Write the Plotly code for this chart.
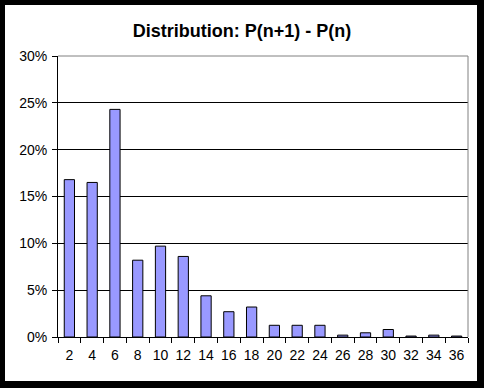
import plotly.graph_objects as go

categories = ["2", "4", "6", "8", "10", "12", "14", "16", "18",
              "20", "22", "24", "26", "28", "30", "32", "34", "36"]
values = [0.168, 0.165, 0.243, 0.082, 0.097, 0.086, 0.044, 0.027, 0.032,
          0.0125, 0.0125, 0.0125, 0.002, 0.0045, 0.008, 0.001, 0.002, 0.001]
y_ticks = [0, 0.05, 0.10, 0.15, 0.20, 0.25, 0.30]

W, H = 484, 388
L, R, T, B = 58, 16, 56, 51
pw, ph = W - L - R, H - T - B

def px_x(p):
    return (p - L) / pw

def px_y(p):
    return (H - B - p) / ph

fig = go.Figure()
fig.add_trace(go.Bar(
    x=categories, y=values,
    marker=dict(color="#9999FF", line=dict(color="black", width=1)),
    hoverinfo="skip",
))

font = "Liberation Sans, Arial, sans-serif"
fig.update_layout(
    width=W, height=H,
    margin=dict(l=L, r=R, t=T, b=B, pad=0, autoexpand=False),
    paper_bgcolor="black",
    plot_bgcolor="white",
    showlegend=False,
    bargap=0.55,
    title=dict(text="<b>Distribution: P(n+1) - P(n)</b>",
               x=0.5, xanchor="center", xref="container",
               y=(H - 31) / H, yanchor="middle", yref="container",
               font=dict(family=font, size=18, color="black")),
    font=dict(family=font, size=14, color="black"),
    xaxis=dict(type="category", showgrid=False, showline=True, linecolor="black",
               linewidth=1, ticks="outside", ticklen=5, tickcolor="black",
               tickson="boundaries", tickangle=0, automargin=False,
               ticklabelstandoff=5,
               tickfont=dict(size=14, color="black"), zeroline=False),
    yaxis=dict(range=[0, 0.30], tickvals=y_ticks, tickformat=".0%",
               showgrid=True, gridcolor="black", gridwidth=1,
               showline=True, linecolor="black", linewidth=1,
               ticks="outside", ticklen=5, tickcolor="black", automargin=False,
               ticklabelstandoff=2,
               tickfont=dict(size=14, color="black"), zeroline=False),
    shapes=[
        dict(type="rect", xref="paper", yref="paper", layer="below",
             x0=px_x(5), x1=px_x(477), y0=px_y(381), y1=px_y(5),
             fillcolor="white", line=dict(width=0)),
        dict(type="line", xref="paper", yref="paper", layer="above",
             x0=0, x1=1, y0=1, y1=1, line=dict(color="#808080", width=1)),
        dict(type="line", xref="paper", yref="paper", layer="above",
             x0=1, x1=1, y0=0, y1=1, line=dict(color="#808080", width=1)),
    ],
)
fig.write_html("out.html", config={"displayModeBar": False},
               post_script="document.body.style.margin='0';document.body.style.overflow='hidden';")
